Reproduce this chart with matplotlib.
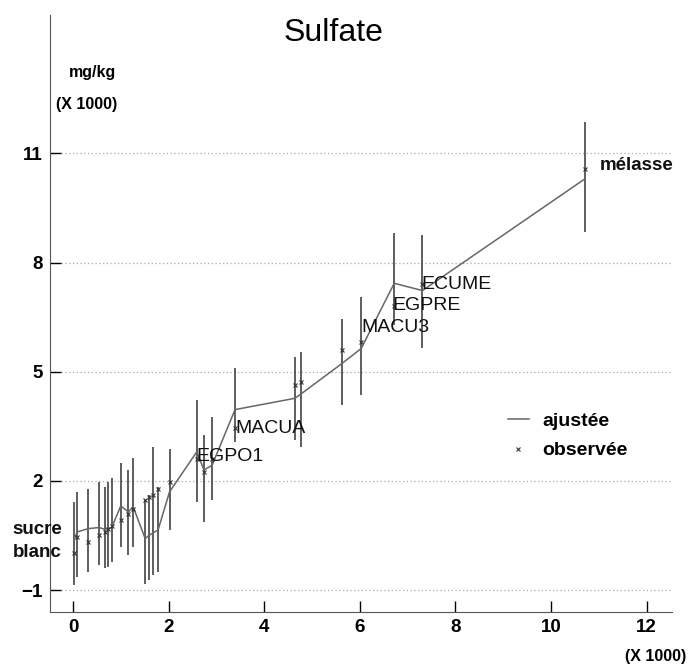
import matplotlib.pyplot as plt
import numpy as np

# concentration in the product (x 1000) and sulfate mg/kg (x 1000)
xs = [0.02, 0.09, 0.32, 0.55, 0.67, 0.74, 0.81, 1.00, 1.16, 1.26,
      1.51, 1.60, 1.68, 1.78, 2.02, 2.59, 2.74, 2.91, 3.39, 4.64,
      4.76, 5.63, 6.03, 6.72, 7.31, 10.71]
fitted = [0.37, 0.60, 0.69, 0.72, 0.67, 0.70, 0.72, 1.31, 1.15, 1.29,
          0.42, 0.51, 0.58, 0.65, 1.70, 2.80, 2.30, 2.43, 3.96, 4.27,
          4.38, 5.23, 5.64, 7.43, 7.23, 10.30]
observed = [0.02, 0.45, 0.33, 0.51, 0.60, 0.69, 0.75, 0.92, 1.10, 1.24,
            1.47, 1.55, 1.62, 1.77, 1.98, 2.60, 2.25, 2.60, 3.45, 4.63,
            4.72, 5.59, 5.82, 6.80, 7.40, 10.56]
lower = [-0.86, -0.63, -0.50, -0.31, -0.40, -0.37, -0.22, 0.19, -0.04, 0.19,
         -0.82, -0.73, -0.59, -0.50, 0.65, 1.43, 0.88, 1.47, 3.07, 3.12,
         2.94, 4.08, 4.36, 6.28, 5.64, 8.84]
upper = [1.43, 1.70, 1.79, 1.98, 1.84, 1.98, 2.07, 2.48, 2.30, 2.62,
         1.47, 1.61, 2.94, 1.84, 2.89, 4.22, 3.26, 3.76, 5.09, 5.41,
         5.55, 6.46, 7.06, 8.80, 8.75, 11.87]

# named points: index, text, offset in pixels, alignment
names = [(0, "sucre\nblanc", (-12, 12), "right"),
         (15, "EGPO1", (0, 3), "left"),
         (18, "MACUA", (0, 0), "left"),
         (22, "MACU3", (0, 14), "left"),
         (23, "EGPRE", (-2, 1), "left"),
         (24, "ECUME", (-1, 0), "left"),
         (25, "mélasse", (15, 4), "left")]

xticks = [0, 2, 4, 6, 8, 10, 12]
yticks = [-1, 2, 5, 8, 11]

plt.rcParams['font.family'] = ['Liberation Sans', 'DejaVu Sans']

fig = plt.figure(figsize=(6.9, 6.68), dpi=100)
ax = fig.add_axes((50 / 690, 1 - 612 / 668, 622 / 690, 597 / 668))

ax.vlines(xs, lower, upper, color='#333333', lw=1.1)
ax.plot(xs, fitted, color='#666666', lw=1.1, label='ajustée')
ax.plot(xs, observed, ls='none', marker='x', ms=3.5, mew=0.8,
        color='#333333', label='observée')

for i, txt, off, ha in names:
    bold = i == 0 or i == 25
    ax.annotate(txt, (xs[i], observed[i]), xytext=off,
                textcoords='offset pixels', ha=ha, va='center',
                fontsize=13.5 if bold else 14,
                fontweight='bold' if bold else 'normal',
                color='#111111', linespacing=1.45)

ax.set_xlim(-0.48, 12.53)
ax.set_ylim(-1.6, 14.8)
ax.set_xticks(xticks)
ax.set_yticks(yticks)
ax.tick_params(direction='in', length=8, width=1, labelsize=13.5, pad=5)
for lab in ax.get_xticklabels() + ax.get_yticklabels():
    lab.set_fontweight('bold')
ax.yaxis.grid(True, ls=(0, (1, 2)), color='#aaaaaa', lw=0.9)
ax.spines['top'].set_visible(False)
ax.spines['right'].set_visible(False)
ax.spines['left'].set_color('#555555')
ax.spines['bottom'].set_color('#555555')

ax.legend(loc='center left', bbox_to_anchor=(0.72, 0.295), frameon=False,
          handlelength=1.1, handletextpad=0.7, labelspacing=0.6,
          borderpad=0, prop={'size': 14, 'weight': 'bold'})

fig.text(333 / 690, 1 - 33 / 668, "Sulfate", ha='center', va='center', fontsize=23)
fig.text(93 / 690, 1 - 73 / 668, "mg/kg", ha='center', va='center',
         fontsize=11.5, fontweight='bold')
fig.text(87 / 690, 1 - 105 / 668, "(X 1000)", ha='center', va='center',
         fontsize=11.5, fontweight='bold')
fig.text(656 / 690, 1 - 657 / 668, "(X 1000)", ha='center', va='center',
         fontsize=11.5, fontweight='bold')

fig.savefig("out.png", dpi=100)
